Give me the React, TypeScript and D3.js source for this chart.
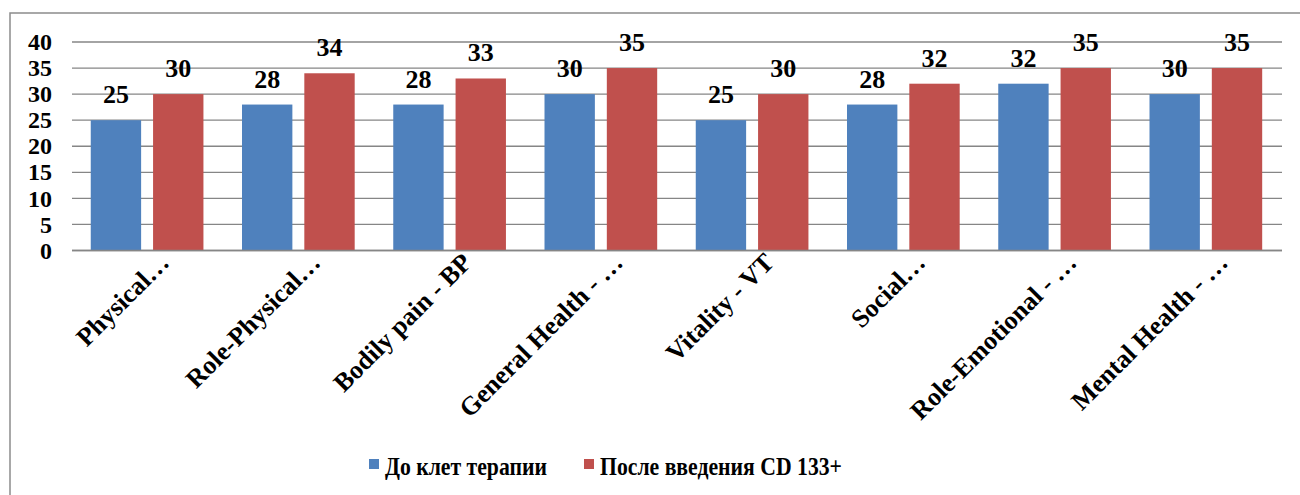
import React from "react";
import * as d3 from "d3";

const categories = [
  "Physical…",
  "Role-Physical…",
  "Bodily pain - BP",
  "General Health - …",
  "Vitality - VT",
  "Social…",
  "Role-Emotional - …",
  "Mental Health - …",
];
const seriesNames = ["До клет терапии", "После введения CD 133+"];
const before = [25, 28, 28, 30, 25, 28, 32, 30];
const after = [30, 34, 33, 35, 30, 32, 35, 35];
const yTicks = [0, 5, 10, 15, 20, 25, 30, 35, 40];
const colors = ["#4F81BD", "#C0504D"];

const W = 1300;
const H = 495;
const FONT = '"Liberation Serif"';

const tStyle = (size: number): React.CSSProperties => ({
  fontFamily: FONT,
  fontWeight: 700,
  fontSize: size,
});

export default function App() {
  const left = 72;
  const right = 1282;
  const top = 42;
  const bottom = 250.5;
  const x = d3.scaleBand<string>().domain(categories).range([left, right]).padding(0);
  const y = d3.scaleLinear().domain([0, 40]).range([bottom, top]);
  const bw = x.bandwidth();
  const barW = bw * 0.333;
  const off0 = bw * 0.124;
  const off1 = bw * 0.536;
  const series = [before, after];

  return (
    <svg
      width={W}
      height={H}
      style={{ position: "absolute", left: 0, top: 0, display: "block", background: "#fff" }}
    >
      <rect x={10} y={13} width={W} height={H} fill="#fff" stroke="#8c8c8c" strokeWidth={1.5} />
      {yTicks.map((t) => (
        <g key={t}>
          <line x1={left} x2={right} y1={y(t)} y2={y(t)} stroke="#868686" strokeWidth={1.3} />
          <text x={52} y={y(t)} dy="0.34em" textAnchor="end" style={tStyle(24)} fill="#000">
            {t}
          </text>
        </g>
      ))}
      {series.map((vals, si) =>
        vals.map((v, i) => {
          const bx = (x(categories[i]) as number) + (si === 0 ? off0 : off1);
          return (
            <g key={`${si}-${i}`}>
              <rect x={bx} y={y(v)} width={barW} height={bottom - y(v)} fill={colors[si]} />
              <text x={bx + barW / 2} y={y(v) - 17} textAnchor="middle" style={tStyle(26)} fill="#000">
                {v}
              </text>
            </g>
          );
        })
      )}
      <line x1={left} x2={right} y1={bottom} y2={bottom} stroke="#868686" strokeWidth={1.3} />
      {categories.map((c) => {
        const cx = (x(c) as number) + bw / 2 + 23;
        const cy = 264;
        return (
          <text
            key={c}
            x={cx}
            y={cy}
            textAnchor="end"
            style={tStyle(26)}
            fill="#000"
            transform={`rotate(-45 ${cx} ${cy})`}
          >
            {c}
          </text>
        );
      })}
      <g>
        <rect x={369} y={459} width={10} height={10} fill={colors[0]} />
        <text x={385} y={475} style={tStyle(25)} fill="#000" textLength={162} lengthAdjust="spacingAndGlyphs">
          {seriesNames[0]}
        </text>
        <rect x={584} y={459} width={10} height={10} fill={colors[1]} />
        <text x={600} y={475} style={tStyle(25)} fill="#000" textLength={242} lengthAdjust="spacingAndGlyphs">
          {seriesNames[1]}
        </text>
      </g>
    </svg>
  );
}
